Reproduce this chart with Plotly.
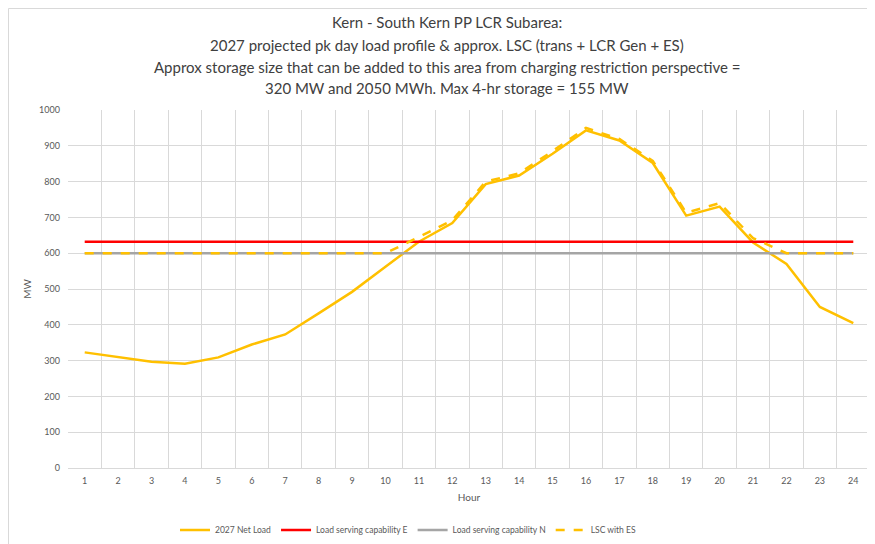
import plotly.graph_objects as go

hours = list(range(1, 25))
net_load = [323, 309, 297, 291, 309, 345, 373, 432, 492, 562, 632, 684,
            793, 817, 878, 943, 915, 852, 705, 730, 630, 570, 450, 405]
lsc_e = [632] * 24
lsc_n = [600] * 24
lsc_es = [600, 600, 600, 600, 600, 600, 600, 600, 600, 600, 645, 692,
          800, 823, 885, 950, 919, 858, 713, 740, 642, 600, 600, 600]

title_lines = [
    "Kern - South Kern PP LCR Subarea:",
    "2027 projected pk day load profile & approx. LSC (trans + LCR Gen + ES)",
    "Approx storage size that can be added to this area from charging restriction perspective =",
    "320 MW and 2050 MWh. Max 4-hr storage = 155 MW",
]

# page body adds an 8px offset; lay out in figure coordinates accordingly
OFF = 8
title_y_px = [22 - OFF, 45 - OFF, 67 - OFF, 88 - OFF]

FONT = "Lato, Open Sans, sans-serif"
W, H = 875 - OFF, 544 - OFF
ML, MR, MT, MB = 68 - OFF, 5, 110 - OFF, 76
PH = H - MT - MB
PW = W - ML - MR

fig = go.Figure()
fig.add_trace(go.Scatter(x=hours, y=net_load, name="2027 Net Load", mode="lines",
                         line=dict(color="#FFC000", width=2.5)))
fig.add_trace(go.Scatter(x=hours, y=lsc_e, name="Load serving capability E", mode="lines",
                         line=dict(color="#FF0000", width=2.5)))
fig.add_trace(go.Scatter(x=hours, y=lsc_n, name="Load serving capability N", mode="lines",
                         line=dict(color="#A5A5A5", width=2.5)))
fig.add_trace(go.Scatter(x=hours, y=lsc_es, name="LSC with ES", mode="lines",
                         line=dict(color="#FFC000", width=2.5, dash="dash")))

fig.update_layout(
    width=W, height=H,
    paper_bgcolor="white", plot_bgcolor="white",
    margin=dict(l=ML, r=MR, t=MT, b=MB, autoexpand=False),
    font=dict(family=FONT, color="#595959", size=9),
    showlegend=True,
    legend=dict(orientation="h", x=(408 - OFF - ML) / PW, xanchor="center",
                y=-(530 - OFF - (H - MB)) / PH, yanchor="middle",
                font=dict(size=8.5, color="#595959"), traceorder="normal"),
)
for txt, py in zip(title_lines, title_y_px):
    fig.add_annotation(text=txt, xref="paper", yref="paper",
                       x=(447 - OFF - ML) / PW, y=((H - MB) - py) / PH,
                       xanchor="center", yanchor="middle", showarrow=False,
                       font=dict(family=FONT, size=15, color="#404040"))

fig.update_xaxes(
    range=[0.5, 24.5], tickvals=hours, ticktext=[str(h) for h in hours],
    showgrid=False, zeroline=False, showline=True, linecolor="#D9D9D9",
    tickfont=dict(size=9, color="#595959"), ticks="", automargin=False,
    ticklabelstandoff=4,
    title=dict(text="Hour", font=dict(size=10, color="#595959"), standoff=9),
    minor=dict(tickvals=[h + 0.5 for h in range(0, 25)], showgrid=True,
               gridcolor="#D9D9D9", gridwidth=1),
)
fig.update_yaxes(
    range=[0, 1000], dtick=100, showgrid=True, gridcolor="#D9D9D9", gridwidth=1,
    zeroline=False, showline=False, tickfont=dict(size=9, color="#595959"), ticks="",
    automargin=False, ticklabelstandoff=7,
    title=dict(text="MW", font=dict(size=10, color="#595959"), standoff=5),
)
fig.add_shape(type="rect", xref="paper", yref="paper",
              x0=-(ML - 0.5) / PW, x1=1.2, y0=-0.5, y1=(H - MB - 0.5) / PH,
              line=dict(color="#D9D9D9", width=1))
fig.write_html("out.html")
